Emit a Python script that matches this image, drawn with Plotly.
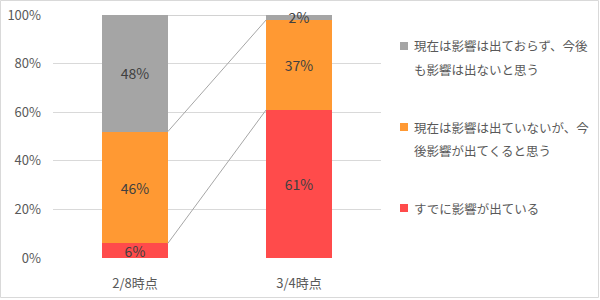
import plotly.graph_objects as go

categories = ["2/8時点", "3/4時点"]
already = [6, 61]      # すでに影響が出ている
future = [46, 37]      # 現在は影響は出ていないが、今後影響が出てくると思う
none_ = [48, 2]        # 現在は影響は出ておらず、今後も影響は出ないと思う
y_ticks = [0, 20, 40, 60, 80, 100]

legend_lines = [
    ["現在は影響は出ておらず、今後", "も影響は出ないと思う"],
    ["現在は影響は出ていないが、今", "後影響が出てくると思う"],
    ["すでに影響が出ている"],
]

C_RED = "#FF4B4B"
C_ORG = "#FF9933"
C_GRY = "#A5A5A5"
FONT = "Noto Sans CJK JP"

W, H = 600, 300
L, R, T, B = 53, 219, 15, 42
PW, PH = W - L - R, H - T - B

def px2paper(x, y):
    return (x - L) / PW, (H - B - y) / PH

xs = list(range(len(categories)))
bw = 0.4
fig = go.Figure()
for vals, col in [(already, C_RED), (future, C_ORG), (none_, C_GRY)]:
    fig.add_trace(go.Bar(
        x=xs, y=vals, width=bw, marker=dict(color=col, line=dict(width=0)),
        text=[f"{v}%" for v in vals], textposition="inside",
        insidetextanchor="middle", constraintext="none",
        textfont=dict(color="#404040", size=14, family=FONT),
        cliponaxis=False, showlegend=False, hoverinfo="skip"))

# series lines
cum1 = already
cum2 = [a + b for a, b in zip(already, future)]
cum3 = [a + b + c for a, b, c in zip(already, future, none_)]
for cum in [cum1, cum2, cum3]:
    fig.add_trace(go.Scatter(
        x=[xs[0] + bw / 2, xs[1] - bw / 2], y=[cum[0], cum[1]],
        mode="lines", line=dict(color="#A6A6A6", width=1),
        showlegend=False, hoverinfo="skip"))

fig.update_layout(
    barmode="stack", width=W, height=H,
    margin=dict(l=L, r=R, t=T, b=B, autoexpand=False),
    plot_bgcolor="white", paper_bgcolor="white",
    font=dict(family=FONT, color="#595959", size=13),
    xaxis=dict(range=[-0.5, 1.5], tickvals=xs, ticktext=categories,
               showgrid=False, zeroline=False, showline=False,
               ticks="", ticklabelstandoff=16, automargin=False,
               tickfont=dict(size=13, color="#595959")),
    yaxis=dict(range=[0, 100], tickvals=y_ticks,
               ticktext=[f"{v}%" for v in y_ticks],
               showgrid=True, gridcolor="#D9D9D9", gridwidth=1,
               zeroline=False, showline=False, ticks="",
               ticklabelstandoff=11, automargin=False,
               tickfont=dict(size=13, color="#595959")),
)

# outer border
x0, y0 = px2paper(0.5, 0.5)
x1, y1 = px2paper(598.5, 297.5)
fig.add_shape(type="rect", xref="paper", yref="paper", x0=x0, y0=y1, x1=x1, y1=y0,
              line=dict(color="#D9D9D9", width=1), layer="below")

# manual legend
legend_cols = [C_GRY, C_ORG, C_RED]
item_y = [46, 127, 208]
for lines, col, yy in zip(legend_lines, legend_cols, item_y):
    mx0, my0 = px2paper(400, yy - 4)
    mx1, my1 = px2paper(408, yy + 4)
    fig.add_shape(type="rect", xref="paper", yref="paper",
                  x0=mx0, x1=mx1, y0=my1, y1=my0,
                  fillcolor=col, line=dict(width=0))
    for i, ln in enumerate(lines):
        tx, ty = px2paper(412, yy + i * 23.5)
        fig.add_annotation(text=ln, xref="paper", yref="paper", x=tx, y=ty,
                           xanchor="left", yanchor="middle", showarrow=False,
                           font=dict(size=12.5, color="#595959", family=FONT))

fig.write_html("out.html")
